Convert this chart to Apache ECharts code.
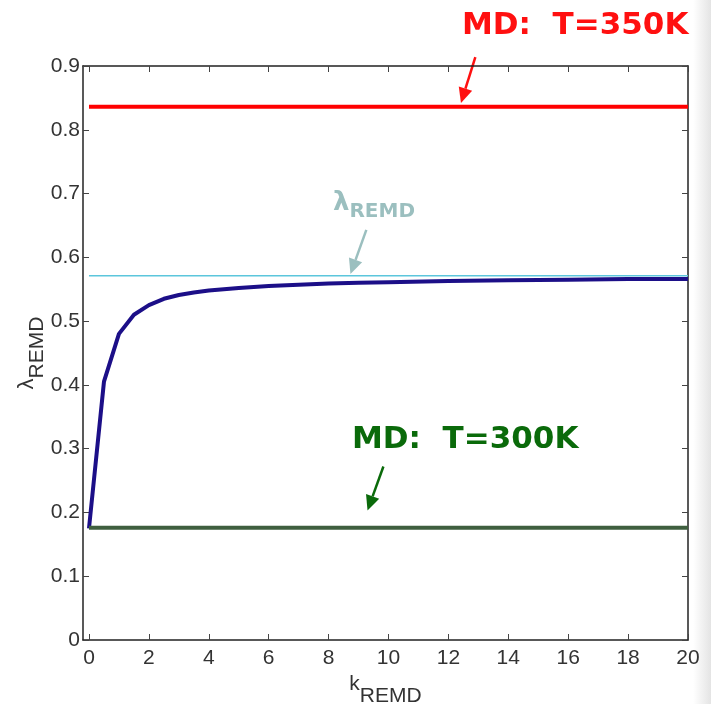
<!DOCTYPE html>
<html>
<head>
<meta charset="utf-8">
<script src="https://cdn.jsdelivr.net/npm/echarts@6/dist/echarts.min.js"></script>
<style>
  html, body { margin: 0; padding: 0; }
  body { background: linear-gradient(to right, #fff 0, #fff 97.5%, #e4e4e4 100%); }
  #chart { width: 711px; height: 704px; }
</style>
</head>
<body>
<div id="chart"></div>
<script>
// data
const kRemd = [0, 0.5, 1, 1.5, 2, 2.5, 3, 3.5, 4, 5, 6, 7, 8, 9, 10, 12, 14, 16, 18, 20];
const lambdaRemd = [0.175, 0.405, 0.48, 0.51, 0.525, 0.535, 0.541, 0.545, 0.548, 0.552, 0.555, 0.557, 0.559, 0.56, 0.561, 0.563, 0.564, 0.565, 0.566, 0.566];
const md350 = 0.836;
const md300 = 0.176;
const lambdaLimit = 0.571;
const xTicks = [0, 2, 4, 6, 8, 10, 12, 14, 16, 18, 20];
const yTicks = [0, 0.1, 0.2, 0.3, 0.4, 0.5, 0.6, 0.7, 0.8, 0.9];

const tickFont = "'Liberation Sans Narrow', 'Liberation Sans', sans-serif";
const annFont = "'DejaVu Sans', sans-serif";

const chart = echarts.init(document.getElementById("chart"));

const flat = (v) => [[0, v], [20, v]];

const axisLine = { show: true, onZero: false, lineStyle: { color: "#222", width: 1.5 } };

const xBase = {
  type: "value",
  min: -0.2,
  max: 20,
  axisLine: axisLine,
  splitLine: { show: false },
  axisTick: { show: true, inside: true, length: 6, customValues: xTicks, lineStyle: { color: "#444" } },
};
const yBase = {
  type: "value",
  min: 0,
  max: 0.9,
  axisLine: axisLine,
  splitLine: { show: false },
  axisTick: { show: true, inside: true, length: 6, customValues: yTicks, lineStyle: { color: "#444" } },
};

const option = {
  backgroundColor: "transparent",
  animation: false,
  grid: { left: 83, right: 23, top: 66, bottom: 64, outerBoundsMode: "none", containLabel: false },
  xAxis: [
    Object.assign({}, xBase, {
      position: "bottom",
      name: "{k|k}{sub|REMD}",
      nameLocation: "middle",
      nameGap: 32,
      nameTextStyle: {
        rich: {
          k: { fontFamily: tickFont, fontSize: 21, color: "#333", verticalAlign: "bottom", padding: [0, 0, 12, 0] },
          sub: { fontFamily: tickFont, fontSize: 21, color: "#333", verticalAlign: "bottom" },
        },
      },
      axisLabel: {
        customValues: xTicks,
        fontFamily: tickFont,
        fontSize: 21,
        color: "#333",
        margin: 8,
      },
    }),
    Object.assign({}, xBase, { position: "top", axisLabel: { show: false } }),
  ],
  yAxis: [
    Object.assign({}, yBase, {
      position: "left",
      name: "{l|λ}{sub|REMD}",
      nameLocation: "middle",
      nameGap: 35,
      nameMoveOverlap: false,
      nameRotate: 90,
      nameTextStyle: {
        rich: {
          l: { fontFamily: tickFont, fontSize: 22, color: "#333", verticalAlign: "bottom", padding: [0, 0, 10, 0] },
          sub: { fontFamily: tickFont, fontSize: 21, color: "#333", verticalAlign: "bottom" },
        },
      },
      axisLabel: {
        customValues: yTicks,
        fontFamily: tickFont,
        fontSize: 21,
        color: "#333",
        margin: 3,
        formatter: (v) => (v === 0 ? "0" : v.toFixed(1)),
      },
    }),
    Object.assign({}, yBase, { position: "right", axisLabel: { show: false } }),
  ],
  series: [
    {
      name: "MD 350K",
      type: "line",
      data: flat(md350),
      showSymbol: false,
      lineStyle: { color: "#ff0000", width: 4 },
    },
    {
      name: "lambda limit",
      type: "line",
      data: flat(lambdaLimit),
      showSymbol: false,
      lineStyle: { color: "#5cc6dc", width: 1.5 },
    },
    {
      name: "REMD",
      type: "line",
      data: kRemd.map((k, i) => [k, lambdaRemd[i]]),
      showSymbol: false,
      lineStyle: { color: "#1c0f88", width: 4 },
    },
    {
      name: "MD 300K",
      type: "line",
      data: flat(md300),
      showSymbol: false,
      lineStyle: { color: "#3f5f3f", width: 4 },
    },
  ],
};

chart.setOption(option);

// annotation arrows, placed in data space and converted with the chart's own scales
const arrows = [
  { from: [12.9, 0.914], to: [12.42, 0.842], color: "#ff1010" },
  { from: [9.26, 0.643], to: [8.73, 0.574], color: "#9bbfbf" },
  { from: [9.83, 0.272], to: [9.3, 0.203], color: "#0a6a0a" },
];

const arrowGraphics = [];
arrows.forEach((a) => {
  const p0 = chart.convertToPixel({ gridIndex: 0 }, a.from);
  const p1 = chart.convertToPixel({ gridIndex: 0 }, a.to);
  const ang = Math.atan2(p1[1] - p0[1], p1[0] - p0[0]);
  const len = 15, half = 7;
  const bx = p1[0] - len * Math.cos(ang), by = p1[1] - len * Math.sin(ang);
  const nx = -Math.sin(ang), ny = Math.cos(ang);
  arrowGraphics.push({
    type: "line",
    shape: { x1: p0[0], y1: p0[1], x2: bx, y2: by },
    style: { stroke: a.color, lineWidth: 2.5 },
    silent: true,
  });
  arrowGraphics.push({
    type: "polygon",
    shape: { points: [[p1[0], p1[1]], [bx + nx * half, by + ny * half], [bx - nx * half, by - ny * half]] },
    style: { fill: a.color },
    silent: true,
  });
});

chart.setOption({
  graphic: arrowGraphics.concat([
    {
      type: "text",
      left: 462,
      top: 10,
      style: { text: "MD:  T=350K", font: "bold 31px " + annFont, fill: "#ff1010" },
    },
    {
      type: "text",
      left: 352,
      top: 424,
      style: { text: "MD:  T=300K", font: "bold 31px " + annFont, fill: "#0a6a0a" },
    },
    {
      type: "text",
      left: 333,
      top: 190,
      style: {
        text: "{l|λ}{s|REMD}",
        rich: {
          l: { font: "bold 26px " + annFont, fill: "#9bbfbf", verticalAlign: "bottom", padding: [0, 0, 6, 0] },
          s: { font: "bold 20px " + annFont, fill: "#9bbfbf", verticalAlign: "bottom" },
        },
      },
    },
  ]),
});
</script>
</body>
</html>
